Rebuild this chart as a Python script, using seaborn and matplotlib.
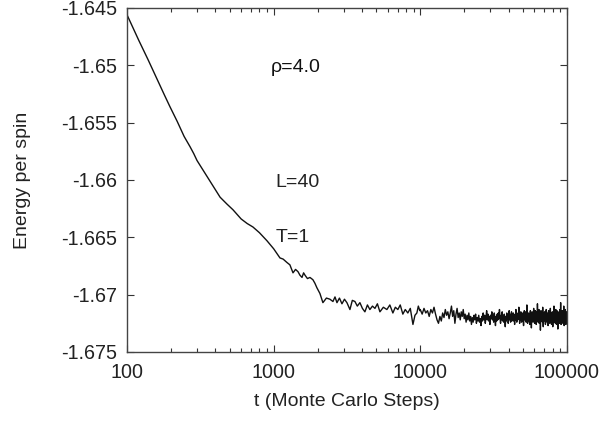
import numpy as np
import pandas as pd
import matplotlib
matplotlib.use("Agg")
import matplotlib.pyplot as plt
import seaborn as sns

# early relaxation
t_early = [100, 120, 139, 160, 180, 196, 220, 245, 269, 285, 300, 340, 386, 431,
           480, 528, 600, 660, 722, 800, 900, 1000]
E_early = [-1.6456, -1.6478, -1.6495, -1.6512, -1.6526, -1.6536, -1.6549, -1.6562,
           -1.6571, -1.6577, -1.6583, -1.6594, -1.6605, -1.6615, -1.6621, -1.6626,
           -1.6634, -1.6638, -1.6641, -1.6646, -1.6653, -1.6660]

# crossover region
t_mid = [1104, 1160, 1233, 1290, 1355, 1410, 1466, 1510, 1561, 1600, 1635, 1700,
         1768, 1852, 1910, 1972, 2068, 2167, 2290, 2420, 2537, 2620, 2702, 2810,
         2923, 3040, 3160, 3313, 3440, 3583, 3720, 3875, 4030, 4191, 4360, 4532,
         4720, 4907, 5100, 5306, 5600, 5920, 6200, 6503, 6760, 7032, 7300, 7605,
         7900, 8224, 8550, 8913, 9200, 9480, 9700, 9930]
E_mid = [-1.6668, -1.6669, -1.6672, -1.6674, -1.6681, -1.6678, -1.6680, -1.6683,
         -1.6685, -1.6681, -1.6683, -1.6686, -1.6685, -1.6687, -1.6690, -1.6694,
         -1.6699, -1.6707, -1.6703, -1.6704, -1.6706, -1.6702, -1.6707, -1.6703,
         -1.6708, -1.6704, -1.6707, -1.6713, -1.6705, -1.6706, -1.6710, -1.6707,
         -1.6712, -1.6715, -1.6709, -1.6713, -1.6710, -1.6712, -1.6708, -1.6715,
         -1.6711, -1.6713, -1.6709, -1.6716, -1.6711, -1.6713, -1.6709, -1.6717,
         -1.6713, -1.6716, -1.6712, -1.6726, -1.6718, -1.6716, -1.6710, -1.6714]

# equilibrium fluctuations, sampled at even intervals from 1e4 to 1e5
E_tail = [
    -1.6713, -1.6717, -1.6712, -1.6716, -1.6714, -1.6719, -1.6713, -1.6716, -1.6711, -1.6717,
    -1.6722, -1.6725, -1.6719, -1.6723, -1.6716, -1.6720, -1.6713, -1.6718, -1.6715, -1.6721,
    -1.6716, -1.6710, -1.6719, -1.6714, -1.6725, -1.6717, -1.6712, -1.6720, -1.6716, -1.6722,
    -1.6715, -1.6719, -1.6713, -1.6721, -1.6717, -1.6724, -1.6718, -1.6722, -1.6716, -1.6723,
    -1.6719, -1.6726, -1.6720, -1.6724, -1.6718, -1.6722, -1.6717, -1.6725, -1.6720, -1.6723,
    -1.6718, -1.6724, -1.6721, -1.6727, -1.6719, -1.6723, -1.6716, -1.6722, -1.6718, -1.6725,
    -1.6720, -1.6714, -1.6722, -1.6717, -1.6723, -1.6719, -1.6726, -1.6718, -1.6721, -1.6715,
    -1.6722, -1.6718, -1.6724, -1.6716, -1.6721, -1.6727, -1.6719, -1.6723, -1.6717, -1.6722,
    -1.6716, -1.6721, -1.6713, -1.6720, -1.6725, -1.6718, -1.6722, -1.6715, -1.6723, -1.6719,
    -1.6724, -1.6717, -1.6722, -1.6728, -1.6719, -1.6723, -1.6716, -1.6721, -1.6718, -1.6725,
    -1.6719, -1.6714, -1.6722, -1.6717, -1.6724, -1.6720, -1.6715, -1.6723, -1.6718, -1.6721,
    -1.6716, -1.6723, -1.6719, -1.6726, -1.6717, -1.6722, -1.6713, -1.6720, -1.6724, -1.6718,
    -1.6722, -1.6716, -1.6721, -1.6711, -1.6719, -1.6725, -1.6717, -1.6722, -1.6715, -1.6720,
    -1.6724, -1.6718, -1.6723, -1.6716, -1.6721, -1.6727, -1.6719, -1.6714, -1.6722, -1.6717,
    -1.6721, -1.6715, -1.6724, -1.6718, -1.6709, -1.6720, -1.6725, -1.6717, -1.6722, -1.6716,
    -1.6723, -1.6718, -1.6726, -1.6719, -1.6714, -1.6722, -1.6717, -1.6729, -1.6720, -1.6715,
    -1.6721, -1.6716, -1.6724, -1.6718, -1.6712, -1.6722, -1.6717, -1.6725, -1.6719, -1.6714,
    -1.6722, -1.6717, -1.6726, -1.6720, -1.6715, -1.6723, -1.6708, -1.6719, -1.6724, -1.6716,
    -1.6721, -1.6713, -1.6725, -1.6718, -1.6722, -1.6716, -1.6731, -1.6719, -1.6714, -1.6723,
    -1.6717, -1.6722, -1.6715, -1.6724, -1.6711, -1.6720, -1.6728, -1.6716, -1.6722, -1.6719,
    -1.6720, -1.6715, -1.6723, -1.6718, -1.6726, -1.6717, -1.6721, -1.6713, -1.6722, -1.6719,
    -1.6724, -1.6716, -1.6721, -1.6718, -1.6727, -1.6720, -1.6714, -1.6723, -1.6717, -1.6722,
    -1.6718, -1.6725, -1.6719, -1.6712, -1.6721, -1.6716, -1.6724, -1.6720, -1.6726, -1.6717,
    -1.6722, -1.6715, -1.6720, -1.6728, -1.6718, -1.6723, -1.6716, -1.6721, -1.6710, -1.6719,
    -1.6724, -1.6717, -1.6722, -1.6716, -1.6725, -1.6719, -1.6713, -1.6722, -1.6718, -1.6726,
    -1.6720, -1.6714, -1.6723, -1.6717, -1.6721, -1.6730, -1.6719, -1.6724, -1.6716, -1.6721,
    -1.6715, -1.6722, -1.6718, -1.6725, -1.6720, -1.6713, -1.6723, -1.6719, -1.6707, -1.6721,
    -1.6726, -1.6718, -1.6722, -1.6716, -1.6724, -1.6719, -1.6714, -1.6722, -1.6717, -1.6725,
    -1.6721, -1.6716, -1.6723, -1.6710, -1.6720, -1.6727, -1.6718, -1.6722, -1.6715, -1.6724,
    -1.6719, -1.6713, -1.6722, -1.6717, -1.6726, -1.6720, -1.6715, -1.6723, -1.6718, -1.6721,
]
t_tail = np.linspace(10000, 100000, len(E_tail))

x_ticks = [100, 1000, 10000, 100000]
x_labels = ["100", "1000", "10000", "100000"]
y_ticks = [-1.645, -1.65, -1.655, -1.66, -1.665, -1.67, -1.675]
y_labels = ["-1.645", "-1.65", "-1.655", "-1.66", "-1.665", "-1.67", "-1.675"]

df = pd.DataFrame({
    "t": np.concatenate([t_early, t_mid, t_tail]),
    "E": np.concatenate([E_early, E_mid, E_tail]),
})

sns.set_style("ticks")
plt.rcParams["font.family"] = ["Liberation Sans", "DejaVu Sans"]

fig = plt.figure(figsize=(6.05, 4.21), dpi=100)
ax = fig.add_axes([0.21, 0.164, 0.727, 0.817])

sns.lineplot(data=df, x="t", y="E", ax=ax, color="#111111", lw=1.0,
             estimator=None, sort=False)

ax.set_xscale("log")
ax.set_xlim(100, 100000)
ax.set_ylim(-1.675, -1.645)
ax.set_xticks(x_ticks, x_labels)
ax.set_yticks(y_ticks, y_labels)
ax.tick_params(axis="both", which="both", direction="in", top=True, right=True,
               labelsize=14.2, colors="#333333", labelcolor="#222222")
ax.tick_params(axis="both", which="major", length=5, width=0.8)
ax.tick_params(axis="x", which="minor", length=3, width=0.8)
ax.tick_params(axis="x", which="major", pad=8)
ax.tick_params(axis="y", which="major", pad=7)
for s in ax.spines.values():
    s.set_color("#444444")
    s.set_linewidth(1.0)

ax.set_xlabel("t (Monte Carlo Steps)", fontsize=14, color="#222222")
ax.set_ylabel("Energy per spin", fontsize=14, color="#222222")
ax.xaxis.set_label_coords(0.5, -0.12)
ax.yaxis.set_label_coords(-0.218, 0.5)

ax.text(950, -1.6502, "ρ=4.0", fontsize=14, va="center", color="#111111")
ax.text(1030, -1.6602, "L=40", fontsize=14, va="center", color="#222222")
ax.text(1030, -1.6650, "T=1", fontsize=14, va="center", color="#222222")

fig.savefig("out.png", dpi=100)
